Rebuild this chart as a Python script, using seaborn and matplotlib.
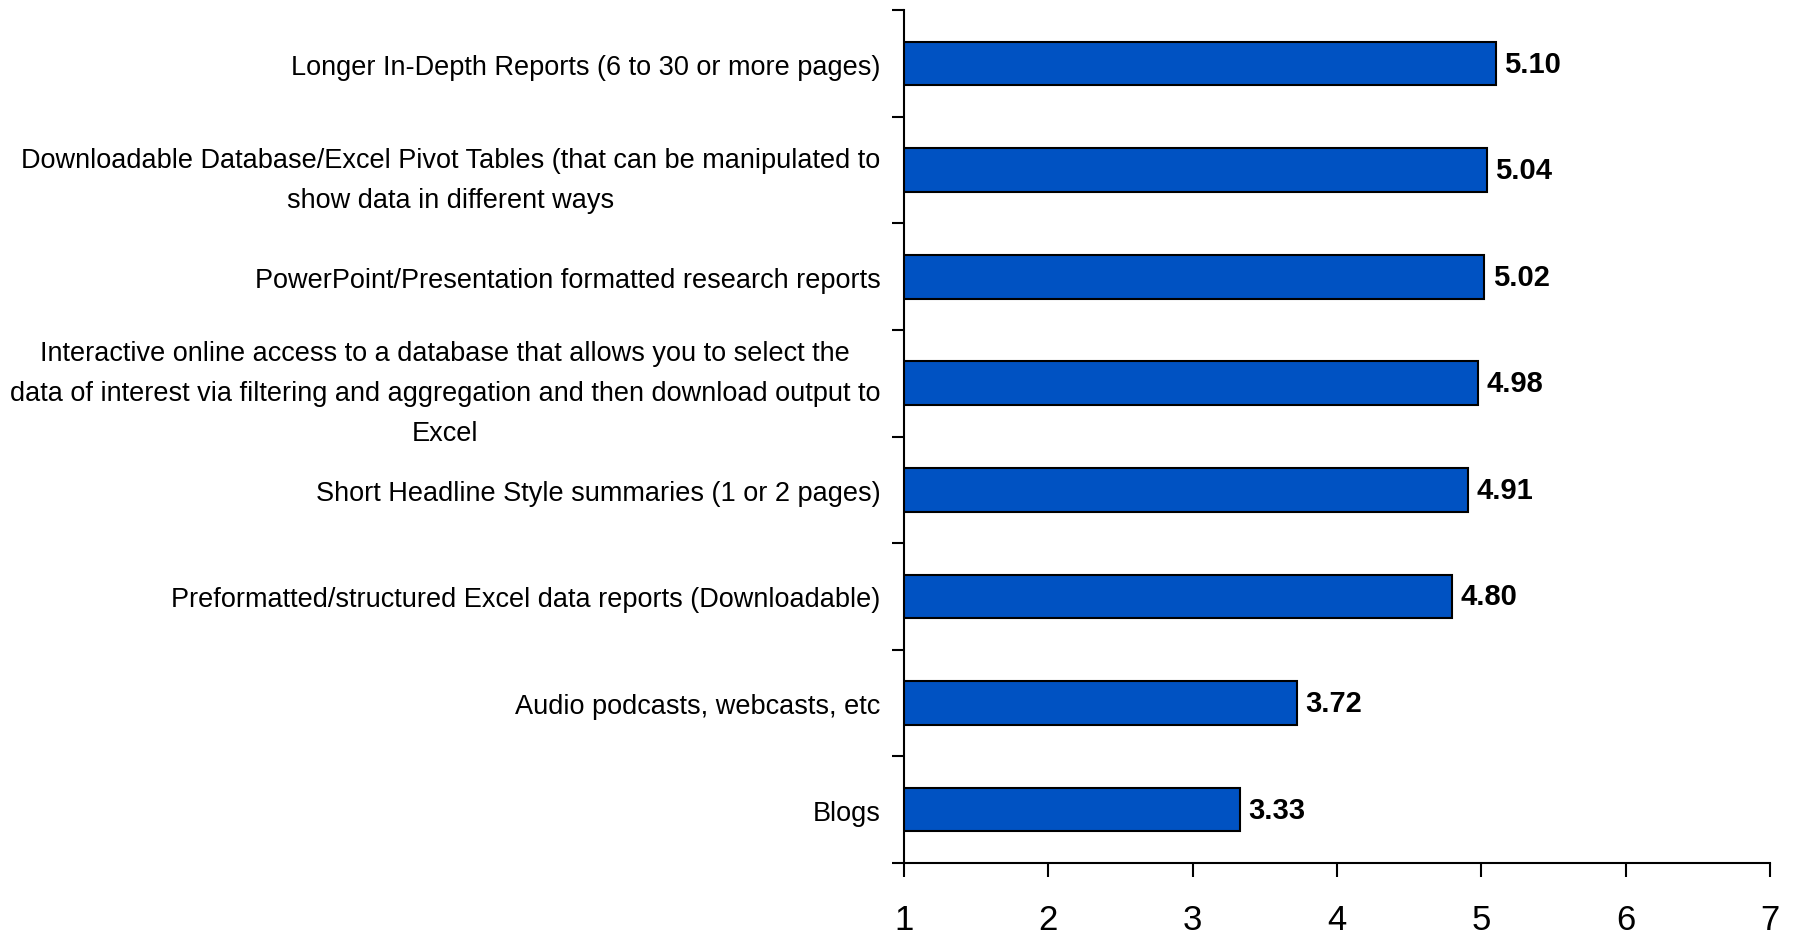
import matplotlib
matplotlib.use("Agg")
import matplotlib.pyplot as plt
import seaborn as sns
import numpy as np
import pandas as pd

categories = [
    "Longer In-Depth Reports (6 to 30 or more pages)",
    "Downloadable Database/Excel Pivot Tables (that can be manipulated to\nshow data in different ways",
    "PowerPoint/Presentation formatted research reports",
    "Interactive online access to a database that allows you to select the\ndata of interest via filtering and aggregation and then download output to\nExcel",
    "Short Headline Style summaries (1 or 2 pages)",
    "Preformatted/structured Excel data reports (Downloadable)",
    "Audio podcasts, webcasts, etc",
    "Blogs",
]
values = [5.10, 5.04, 5.02, 4.98, 4.91, 4.80, 3.72, 3.33]
xticks = [1, 2, 3, 4, 5, 6, 7]

sns.set_style("white")
plt.rcParams["font.family"] = ["Liberation Sans", "DejaVu Sans"]
plt.rcParams["text.color"] = "black"
plt.rcParams["xtick.color"] = "black"
plt.rcParams["ytick.color"] = "black"
plt.rcParams["axes.labelcolor"] = "black"

df = pd.DataFrame({"cat": categories, "val": values})

fig = plt.figure(figsize=(17.95, 9.37), dpi=100)
ax = fig.add_axes([0.5036, 0.078, 0.4825, 0.91])
sns.barplot(data=df, x="val", y="cat", orient="h", color="#0052C2",
            saturation=1, edgecolor="black", linewidth=1.5, width=0.41, ax=ax)

ax.set_xlim(1, 7)
ax.set_ylim(len(categories) - 0.5, -0.5)
ax.set_xticks(xticks)
ax.set_xticklabels([str(t) for t in xticks], fontsize=25)
ax.set_xlabel("")
ax.set_ylabel("")

ax.set_yticks(range(len(categories)))
ax.set_yticklabels(categories, fontsize=19.5, multialignment="center", linespacing=1.7)
ax.tick_params(axis="y", which="major", length=0, pad=17)
ax.set_yticks(np.arange(-0.5, len(categories), 1), minor=True)
ax.tick_params(axis="y", which="minor", length=9, width=1.5, direction="out", left=True)
ax.tick_params(axis="x", which="major", length=10, width=1.5, direction="out", bottom=True, pad=19)

for s in ["top", "right"]:
    ax.spines[s].set_visible(False)
for s in ["left", "bottom"]:
    ax.spines[s].set_linewidth(1.5)
    ax.spines[s].set_color("black")

for c in ax.containers:
    ax.bar_label(c, fmt="%.2f", padding=6, fontsize=21, fontweight="bold", color="black")

fig.savefig("out.png", dpi=100)
